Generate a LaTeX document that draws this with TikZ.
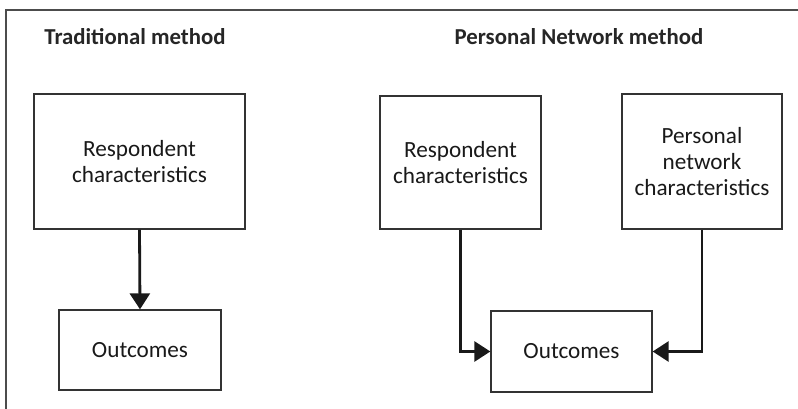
\documentclass[tikz,border=0pt]{standalone}
\usepackage{fontspec}
\setmainfont{Carlito}
\usetikzlibrary{arrows.meta}
\tikzset{
  box/.style={draw=black!80, line width=1.3pt, align=center, font=\fontsize{23.2}{26}\selectfont, text=black!90, inner sep=0pt},
  title/.style={font=\bfseries\fontsize{22.8}{26}\selectfont, text=black!85},
  conn/.style={line width=2.8pt, black!90, -{Triangle[length=16pt,width=20pt]}},
  frame/.style={draw=black!70, line width=1.8pt}
}
\begin{document}
\begin{tikzpicture}[x=1pt,y=-1pt]
\useasboundingbox (0,0) rectangle (798,409);
\draw[frame] (6,409) -- (6,10) -- (798,10);
\node[title] (t1) at (135,37) {Traditional method};
\node[title] (t2) at (579,37) {Personal Network method};
% left
\node[box, minimum width=211pt, minimum height=135pt] (r1) at (139.5,161.5) {Respondent\\characteristics};
\node[box, minimum width=162pt, minimum height=80pt] (o1) at (140,350) {Outcomes};
\draw[conn] (r1.south) -- (o1.north);
% right
\node[box, minimum width=161pt, minimum height=133pt] (r2) at (460.5,162.5) {Respondent\\characteristics};
\node[box, minimum width=160pt, minimum height=135pt] (p2) at (702,161.5) {Personal\\network\\characteristics};
\node[box, minimum width=161pt, minimum height=81pt] (o2) at (571.5,351.5) {Outcomes};
\draw[conn] (r2.south) |- (o2.west);
\draw[conn] (p2.south) |- (o2.east);
\end{tikzpicture}
\end{document}
